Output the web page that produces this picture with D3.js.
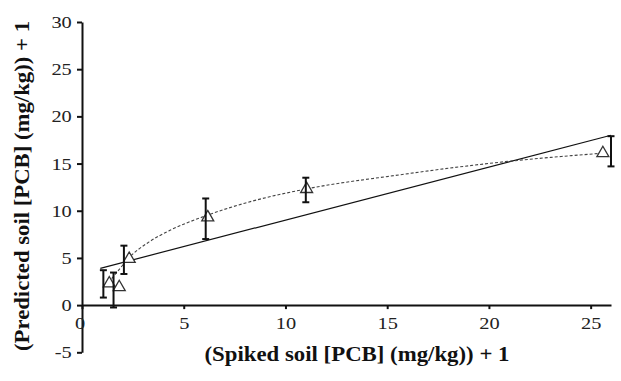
<!DOCTYPE html>
<html>
<head>
<meta charset="utf-8">
<script src="https://cdn.jsdelivr.net/npm/d3@7"></script>
<style>
  body { margin: 0; background: #fff; }
  svg { display: block; }
  .tick text { font-family: "Liberation Serif", "Times New Roman", serif; font-size: 17px; fill: #222; }
  .axis path, .axis line { stroke: #111; }
</style>
</head>
<body>
<div id="wrapper"></div>
<script>
// observed points (triangles)
var pointX = [1.34, 1.83, 2.32, 6.18, 11.04, 25.6];
var pointY = [2.3, 1.9, 4.9, 9.3, 12.3, 16.1];

// error bars (drawn slightly left of some triangles in the original)
var barX = [1.05, 1.55, 2.06, 6.08, 11.0, 26.0];
var barLow = [0.8, -0.25, 3.3, 7.0, 10.9, 14.7];
var barHigh = [3.7, 3.45, 6.3, 11.3, 13.5, 17.9];

// dashed curve
var curveX = [1.3, 1.8, 2.3, 3.3, 4.3, 6.0, 8.0, 11.0, 15.6, 18.0, 20.8, 25.6];
var curveY = [2.4, 3.7, 5.0, 6.7, 7.9, 9.4, 10.8, 12.3, 13.8, 14.5, 15.2, 16.1];

// solid regression line end points
var lineX = [0.9, 26];
var lineY = [3.9, 18.0];

var xTicks = [0, 5, 10, 15, 20, 25];
var yTicks = [-5, 0, 5, 10, 15, 20, 25, 30];

var width = 621, height = 381;

var svg = d3.select("#wrapper").append("svg")
  .attr("width", width)
  .attr("height", height);

var x = d3.scaleLinear().domain([0, 26]).range([82, 611]);
var y = d3.scaleLinear().domain([-5, 30]).range([352.3, 22]);

// y axis
svg.append("g")
  .attr("class", "axis")
  .attr("transform", "translate(" + x(0) + ",0)")
  .call(d3.axisLeft(y).tickValues(yTicks).tickSize(5).tickSizeOuter(0).tickPadding(3.5)
    .tickFormat(function (d) { return String(d); }))
  .call(function (g) {
    g.select(".domain").attr("stroke-width", 2);
    g.selectAll(".tick line").attr("stroke-width", 2);
    // the original glyphs are a bit wider than they are tall
    g.selectAll(".tick text").attr("transform", "scale(1.2,1)");
  });

// x axis
svg.append("g")
  .attr("class", "axis")
  .attr("transform", "translate(0," + y(0) + ")")
  .call(d3.axisBottom(x).tickValues(xTicks).tickSize(4).tickSizeOuter(0).tickPadding(8)
    .tickFormat(function (d) { return String(d); }))
  .call(function (g) {
    g.select(".domain").attr("stroke-width", 2);
    g.selectAll(".tick line").attr("stroke-width", 2);
    g.selectAll(".tick text")
      .attr("dx", function (d) { return d == 0 ? -2 : 0; })
      .attr("transform", "scale(1.2,1)");
  });

// solid line
var solid = lineX.map(function (d, i) { return [d, lineY[i]]; });
svg.append("path")
  .attr("d", d3.line().x(function (d) { return x(d[0]); }).y(function (d) { return y(d[1]); })(solid))
  .attr("fill", "none")
  .attr("stroke", "#111")
  .attr("stroke-width", 1.2);

// dashed curve
var curve = curveX.map(function (d, i) { return [d, curveY[i]]; });
svg.append("path")
  .attr("d", d3.line().curve(d3.curveMonotoneX)
    .x(function (d) { return x(d[0]); }).y(function (d) { return y(d[1]); })(curve))
  .attr("fill", "none")
  .attr("stroke", "#444")
  .attr("stroke-width", 1.1)
  .attr("stroke-dasharray", "3,2");

// triangles
var tri = d3.symbol().type(d3.symbolTriangle).size(62);
svg.selectAll(".pt")
  .data(pointX)
  .enter()
  .append("path")
  .attr("class", "pt")
  .attr("d", tri)
  .attr("transform", function (d, i) { return "translate(" + x(d) + "," + y(pointY[i]) + ")"; })
  .attr("fill", "white")
  .attr("stroke", "#333")
  .attr("stroke-width", 1.3);

// error bars
var bars = svg.selectAll(".bar")
  .data(barX)
  .enter()
  .append("g")
  .attr("class", "bar")
  .attr("stroke", "#111")
  .attr("stroke-width", 2);
bars.append("line")
  .attr("x1", function (d) { return x(d); })
  .attr("x2", function (d) { return x(d); })
  .attr("y1", function (d, i) { return y(barLow[i]); })
  .attr("y2", function (d, i) { return y(barHigh[i]); });
bars.append("line")
  .attr("x1", function (d) { return x(d) - 3.5; })
  .attr("x2", function (d) { return x(d) + 3.5; })
  .attr("y1", function (d, i) { return y(barLow[i]); })
  .attr("y2", function (d, i) { return y(barLow[i]); });
bars.append("line")
  .attr("x1", function (d) { return x(d) - 3.5; })
  .attr("x2", function (d) { return x(d) + 3.5; })
  .attr("y1", function (d, i) { return y(barHigh[i]); })
  .attr("y2", function (d, i) { return y(barHigh[i]); });

// axis titles
svg.append("text")
  .attr("x", 357)
  .attr("y", 361)
  .attr("text-anchor", "middle")
  .attr("textLength", 305)
  .attr("lengthAdjust", "spacingAndGlyphs")
  .style("font-family", "'Liberation Serif', 'Times New Roman', serif")
  .style("font-weight", "bold")
  .style("font-size", "20px")
  .style("fill", "#111")
  .text("(Spiked soil [PCB] (mg/kg)) + 1");

svg.append("text")
  .attr("transform", "translate(29,186) rotate(-90)")
  .attr("text-anchor", "middle")
  .attr("textLength", 330)
  .attr("lengthAdjust", "spacingAndGlyphs")
  .style("font-family", "'Liberation Serif', 'Times New Roman', serif")
  .style("font-weight", "bold")
  .style("font-size", "20px")
  .style("fill", "#111")
  .text("(Predicted soil [PCB] (mg/kg)) + 1");
</script>
</body>
</html>
